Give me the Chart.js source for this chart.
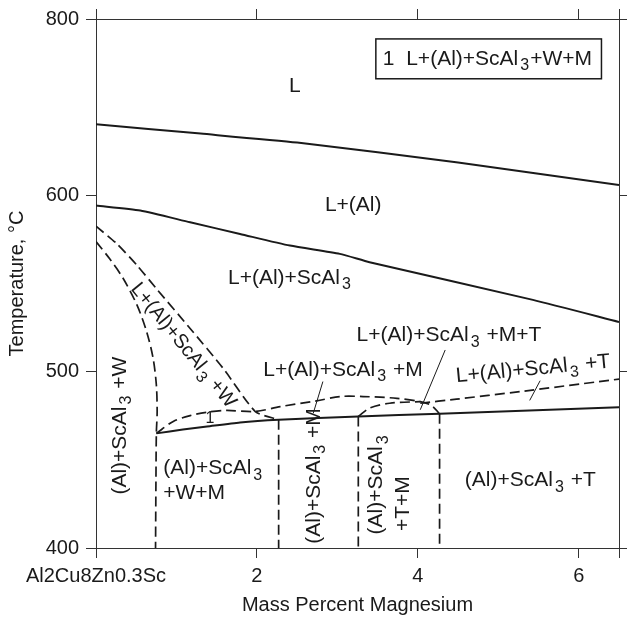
<!DOCTYPE html>
<html>
<head>
<meta charset="utf-8">
<title>Al2Cu8Zn0.3Sc - Mg</title>
<script src="https://cdn.jsdelivr.net/npm/chart.js@4.4.1/dist/chart.umd.min.js"></script>
<style>
  html, body { margin: 0; padding: 0; background: #fff; }
  #wrap { width: 627px; height: 618px; }
</style>
</head>
<body>
<div id="wrap"><canvas id="phaseChart" width="627" height="618"></canvas></div>
<script>
// axis ticks (top of the picture is labelled 800 although it sits one step above 600)
const xTickValues = [0, 2, 4, 6, 6.5];
const xTickLabels = ['Al2Cu8Zn0.3Sc', '2', '4', '6', ''];
const yTickValues = [400, 500, 600, 700];
const yTickLabels = ['400', '500', '600', '800'];

// phase boundaries, [mass % Mg, temperature]
const liquidus = [[0, 640.3], [1.3, 635.0], [2.5, 629.9], [4.5, 618.6], [6.5, 605.8]];
const scAl3Start = [[0, 594.2], [0.55, 591.4], [1.17, 584.7], [1.79, 578.1], [2.41, 571.5], [3.03, 566.8], [3.40, 562.1], [5.43, 540.7], [6.5, 528.2]];
const wUpper = [[0, 582.5], [0.26, 572.5], [0.51, 560.3], [0.75, 547.1], [1.17, 524.5], [1.58, 501.9], [1.98, 477.4], [2.27, 472.7]];
const wLower = [[0, 573.8], [0.17, 564.0], [0.34, 552.7], [0.51, 537.7], [0.63, 522.6], [0.71, 507.5], [0.75, 492.5], [0.76, 477.4], [0.75, 465.0], [0.745, 437.9], [0.74, 400]];
const mUpper = [[0.75, 465.0], [0.96, 471.8], [1.17, 475.1], [1.38, 477.0], [1.62, 478.0], [1.98, 477.4], [2.29, 480.2], [2.74, 483.4], [3.03, 485.9], [3.32, 485.9], [3.74, 484.9], [4.03, 483.0], [4.17, 480.8], [4.27, 476.1]];
const tmArc = [[3.26, 474.6], [3.40, 479.3], [3.65, 482.1], [4.03, 483.0]];
const tUpper = [[4.03, 482.1], [4.48, 484.4], [5.27, 488.7], [6.5, 495.8]];
const solidus = [[0.75, 465.0], [1.08, 467.2], [1.38, 468.9], [1.79, 471.2], [2.27, 472.7], [3.26, 474.6], [4.27, 476.1], [6.5, 479.8]];
const vertical1 = [[2.27, 472.7], [2.27, 400]];
const vertical2 = [[3.26, 474.6], [3.26, 400]];
const vertical3 = [[4.27, 476.1], [4.27, 400]];
const leaderM = [[2.82, 494.4], [2.70, 476.4]];
const leaderMT = [[4.34, 512.3], [4.03, 478.4]];
const leaderT = [[5.52, 494.9], [5.39, 483.7]];

// region labels; "_3" is a subscript 3
const regionLabels = [
    { text: 'L', x: 2.398, y: 661.8 },
    { text: 'L+(Al)', x: 2.845, y: 594.4 },
    { text: 'L+(Al)+ScAl_3', x: 1.640, y: 553.1 },
    { text: 'L+(Al)+ScAl_3 +M+T', x: 3.239, y: 520.7 },
    { text: 'L+(Al)+ScAl_3 +M', x: 2.078, y: 500.9 },
    { text: 'L+(Al)+ScAl_3 +T', x: 4.474, y: 497.2, rot: -5.5 },
    { text: 'L+(Al)+ScAl_3 +W', x: 0.478, y: 548.8, rot: 50.8, size: 20 },
    { text: '(Al)+ScAl_3 +W', x: 0.298, y: 430.3, rot: -90 },
    { text: '(Al)+ScAl_3', x: 0.836, y: 445.2 },
    { text: '+W+M', x: 0.836, y: 430.8 },
    { text: '(Al)+ScAl_3 +M', x: 2.708, y: 402.4, rot: -90 },
    { text: '(Al)+ScAl_3', x: 3.486, y: 407.7, rot: -90 },
    { text: '+T+M', x: 3.817, y: 409.6, rot: -90 },
    { text: '(Al)+ScAl_3 +T', x: 4.584, y: 438.4 },
    { text: '1', x: 1.36, y: 473.4, size: 16 },
];
const keyText = '1  L+(Al)+ScAl_3+W+M';
const keyBox = [3.478, 6.282, 688.7, 666.1];

const FONT = '"Liberation Sans", Arial, sans-serif';
const INK = '#1a1a1a';

const line = (points, dashed, width, tension) => ({
    data: points.map(([x, y]) => ({ x, y })),
    borderColor: INK,
    borderWidth: width,
    borderDash: dashed ? [10, 5] : [],
    pointRadius: 0,
    tension: tension,
    fill: false
});

const drawRich = (ctx, text, px, py, rot, size) => {
    const parts = text.split(/_(.)/);
    ctx.save();
    ctx.translate(px, py);
    ctx.rotate(rot * Math.PI / 180);
    ctx.textBaseline = 'middle';
    ctx.textAlign = 'left';
    let cx = 0;
    parts.forEach((p, i) => {
        const sub = i % 2 === 1;
        ctx.font = (sub ? Math.round(size * 0.78) : size) + 'px ' + FONT;
        if (sub) cx += 2;
        ctx.fillText(p, cx, sub ? size * 0.33 : 0);
        cx += ctx.measureText(p).width + (sub ? 1 : 0);
    });
    ctx.restore();
};

const labelPlugin = {
    id: 'phaseLabels',
    afterDatasetsDraw(chart) {
        const { ctx, scales: { x, y } } = chart;
        ctx.save();
        ctx.fillStyle = INK;
        ctx.strokeStyle = INK;
        ctx.lineWidth = 1.5;
        const bx0 = x.getPixelForValue(keyBox[0]);
        const bx1 = x.getPixelForValue(keyBox[1]);
        const by0 = y.getPixelForValue(keyBox[2]);
        const by1 = y.getPixelForValue(keyBox[3]);
        ctx.strokeRect(bx0, by0, bx1 - bx0, by1 - by0);
        drawRich(ctx, keyText, bx0 + 7, (by0 + by1) / 2, 0, 21);
        regionLabels.forEach(l => {
            drawRich(ctx, l.text, x.getPixelForValue(l.x), y.getPixelForValue(l.y), l.rot || 0, l.size || 21);
        });
        ctx.restore();
    }
};

const axisGrid = { drawOnChartArea: false, drawTicks: true, tickLength: 10, color: '#333', lineWidth: 1 };
const axisBorder = { color: '#333', width: 1 };

new Chart(document.getElementById('phaseChart'), {
    type: 'line',
    data: {
        datasets: [
            line(liquidus, false, 2, 0.2),
            line(scAl3Start, false, 2, 0.2),
            line(wUpper, true, 1.7, 0.2),
            line(wLower, true, 1.7, 0.3),
            line(mUpper, true, 1.7, 0.3),
            line(tmArc, true, 1.7, 0.3),
            line(tUpper, true, 1.7, 0.2),
            line(solidus, false, 2, 0.2),
            line(vertical1, true, 1.7, 0),
            line(vertical2, true, 1.7, 0),
            line(vertical3, true, 1.7, 0),
            line(leaderM, false, 1, 0),
            line(leaderMT, false, 1, 0),
            line(leaderT, false, 1, 0)
        ]
    },
    options: {
        responsive: false,
        animation: false,
        layout: { padding: 0 },
        plugins: { legend: { display: false }, tooltip: { enabled: false } },
        scales: {
            x: {
                type: 'linear',
                position: 'bottom',
                min: 0,
                max: 6.5,
                afterBuildTicks: s => { s.ticks = xTickValues.map(v => ({ value: v })); },
                afterFit: s => { s.height = 70; },
                ticks: {
                    callback: (v, i) => xTickLabels[i],
                    font: { family: FONT, size: 20 },
                    color: INK,
                    padding: 6,
                    maxRotation: 0,
                    autoSkip: false
                },
                grid: axisGrid,
                border: axisBorder,
                title: {
                    display: true,
                    text: 'Mass Percent Magnesium',
                    font: { family: FONT, size: 20 },
                    color: INK,
                    padding: { top: 0, bottom: 1 }
                }
            },
            x2: {
                type: 'linear',
                position: 'top',
                min: 0,
                max: 6.5,
                afterBuildTicks: s => { s.ticks = xTickValues.map(v => ({ value: v })); },
                afterFit: s => { s.height = 16; },
                ticks: { display: false },
                grid: axisGrid,
                border: axisBorder
            },
            y: {
                type: 'linear',
                position: 'left',
                min: 400,
                max: 700,
                afterBuildTicks: s => { s.ticks = yTickValues.map(v => ({ value: v })); },
                afterFit: s => { s.width = 96; },
                ticks: {
                    callback: (v, i) => yTickLabels[i],
                    font: { family: FONT, size: 20 },
                    color: INK,
                    padding: 7
                },
                grid: axisGrid,
                border: axisBorder,
                title: {
                    display: true,
                    text: 'Temperature, °C',
                    font: { family: FONT, size: 20 },
                    color: INK,
                    padding: { top: 5, bottom: 0 }
                }
            },
            y2: {
                type: 'linear',
                position: 'right',
                min: 400,
                max: 700,
                afterBuildTicks: s => { s.ticks = yTickValues.map(v => ({ value: v })); },
                afterFit: s => { s.width = 8; },
                ticks: { display: false },
                grid: axisGrid,
                border: axisBorder
            }
        }
    },
    plugins: [labelPlugin]
});
</script>
</body>
</html>
